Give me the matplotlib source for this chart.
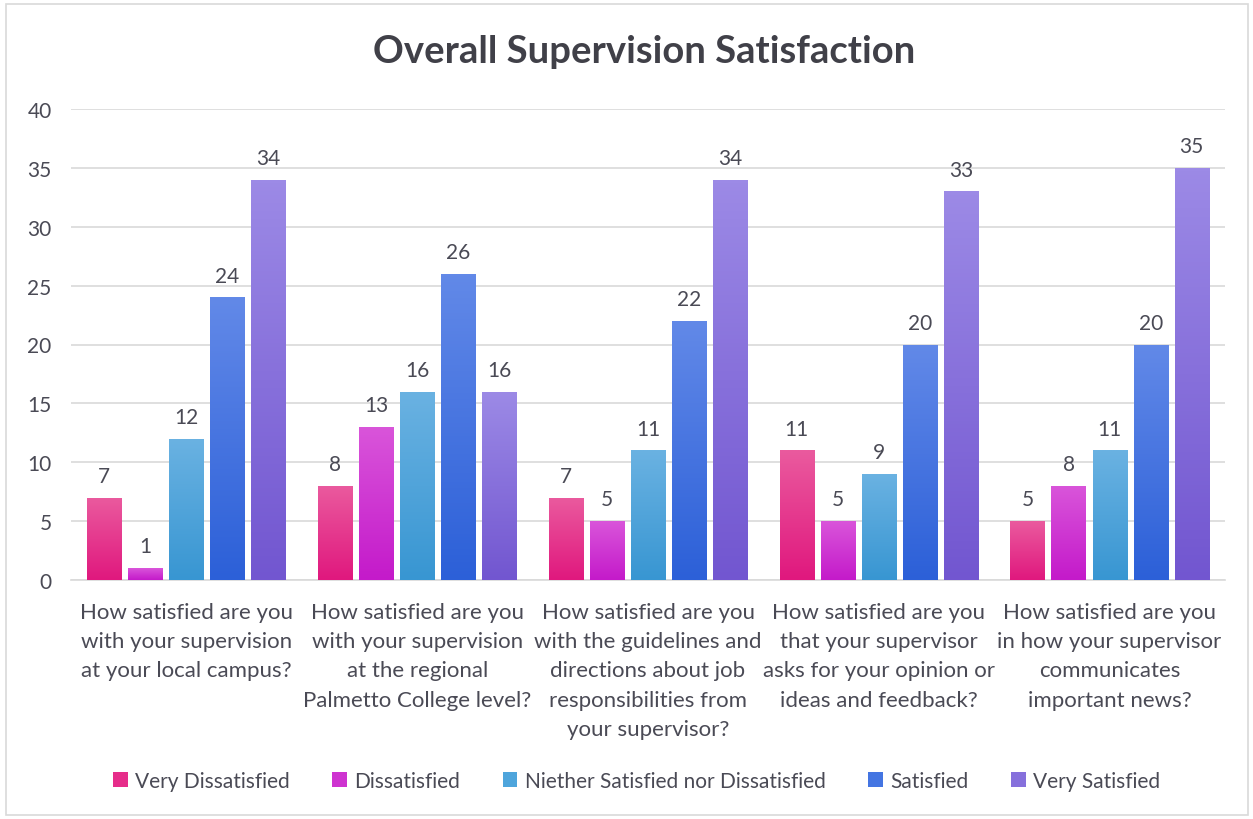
import matplotlib
matplotlib.use("Agg")
import matplotlib.pyplot as plt
import numpy as np
from matplotlib.colors import LinearSegmentedColormap
from matplotlib.patches import Rectangle

plt.rcParams['font.family'] = ['Lato', 'DejaVu Sans']

categories = [
    "How satisfied are you\nwith your supervision\nat your local campus?",
    "How satisfied are you\nwith your supervision\nat the regional\nPalmetto College level?",
    "How satisfied are you\nwith the guidelines and\ndirections about job\nresponsibilities from\nyour supervisor?",
    "How satisfied are you\nthat your supervisor\nasks for your opinion or\nideas and feedback?",
    "How satisfied are you\nin how your supervisor\ncommunicates\nimportant news?",
]
series_names = ["Very Dissatisfied", "Dissatisfied", "Niether Satisfied nor Dissatisfied",
                "Satisfied", "Very Satisfied"]
very_dissatisfied = [7, 8, 7, 11, 5]
dissatisfied = [1, 13, 5, 5, 8]
neither = [12, 16, 11, 9, 11]
satisfied = [24, 26, 22, 20, 20]
very_satisfied = [34, 16, 34, 33, 35]
series_values = [very_dissatisfied, dissatisfied, neither, satisfied, very_satisfied]

# (top, bottom) gradient colours
grad = [("#EA5A9E", "#E0187E"), ("#D955DA", "#C41ACA"), ("#6AB2E2", "#3896D2"),
        ("#6289E8", "#2C60D8"), ("#9C8AE6", "#7256D0")]
mid = ["#E62D8A", "#CE33D0", "#4EA5DC", "#4475E2", "#8670DC"]

text_color = "#4A4A55"

fig = plt.figure(figsize=(12.53, 8.2), dpi=100)
fig.patches.append(Rectangle((6/1253, 1-816/820), 1242/1253, 811/820, transform=fig.transFigure,
                             fill=False, edgecolor="#D9D9D9", linewidth=1.2))
ax = fig.add_axes([71/1253, 1-581/820, (1225-71)/1253, (581-110)/820])

x = np.arange(len(categories))
step = 0.178
width = 0.148
for i, (name, vals) in enumerate(zip(series_names, series_values)):
    offs = (i - 2) * step
    bars = ax.bar(x + offs, vals, width, color=mid[i], label=name, zorder=2)
    cmap = LinearSegmentedColormap.from_list(f"g{i}", [grad[i][1], grad[i][0]])
    for b, v in zip(bars, vals):
        bx, by = b.get_x(), b.get_y()
        w, h = b.get_width(), b.get_height()
        img = ax.imshow(np.linspace(0, 1, 100).reshape(-1, 1), cmap=cmap, origin="lower",
                        extent=[bx, bx + w, by, by + h], aspect="auto", zorder=2.5)
        img.set_clip_path(b)
        ax.text(bx + w / 2, v + 1.0, str(v), ha="center", va="bottom",
                fontsize=15, color=text_color, zorder=3)

ax.set_xlim(-0.5, len(categories) - 0.5)
ax.set_ylim(0, 40)
ax.set_yticks(range(0, 41, 5))
ax.yaxis.grid(True, color="#D9D9D9", linewidth=1.2, zorder=0)
ax.set_axisbelow(True)
for s in ["top", "right", "left"]:
    ax.spines[s].set_visible(False)
ax.spines["bottom"].set_color("#D9D9D9")
ax.spines["bottom"].set_linewidth(1.2)
ax.spines["bottom"].set_zorder(1)
ax.tick_params(axis="y", length=0, labelsize=15, labelcolor=text_color, pad=14)
ax.tick_params(axis="x", length=0, labelsize=16, labelcolor=text_color, pad=16)
ax.set_xticks(x)
ax.set_xticklabels(categories, linespacing=1.57)

fig.text(0.514, 1 - 52/820, "Overall Supervision Satisfaction", ha="center", va="center",
         fontsize=27.5, fontweight="bold", color="#404048")

leg = fig.legend(*ax.get_legend_handles_labels(), loc="center", bbox_to_anchor=(0.508, 1 - 782/820),
                 ncol=5, frameon=False, fontsize=15, handlelength=0.7, handleheight=0.7,
                 handletextpad=0.35, columnspacing=2.05, labelcolor=text_color)

fig.savefig("out.png", dpi=100)
